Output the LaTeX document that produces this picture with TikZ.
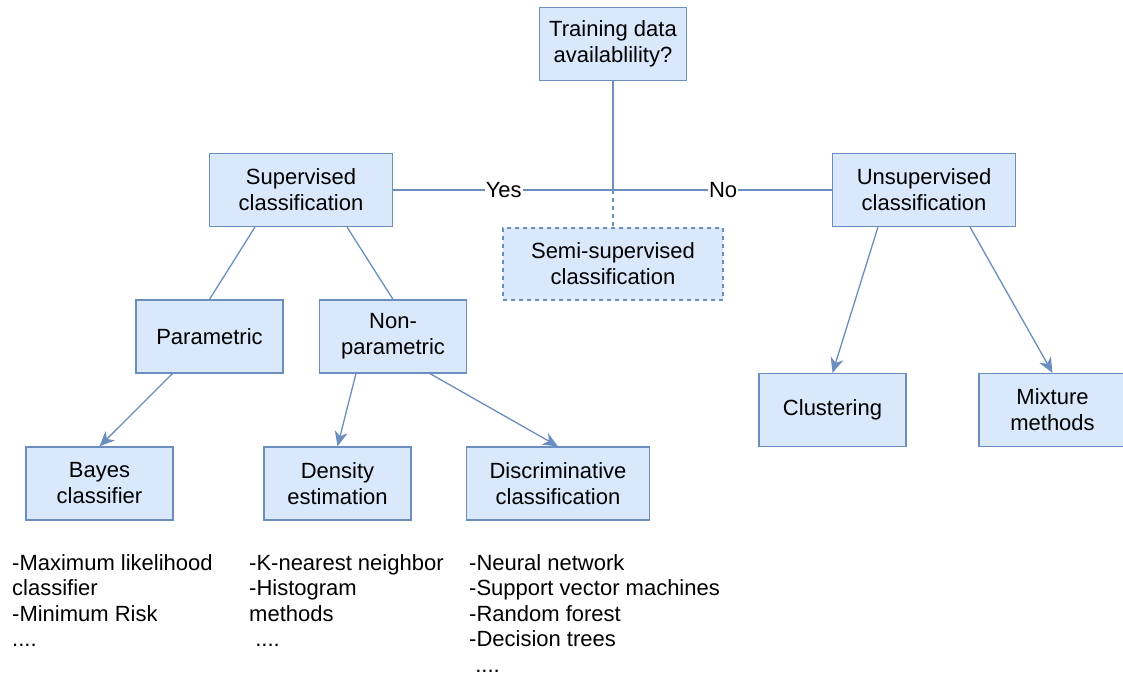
\documentclass[tikz,border=0pt]{standalone}
\usepackage{fontspec}
\setmainfont{Liberation Sans}
\usetikzlibrary{arrows.meta,calc}
\definecolor{boxfill}{HTML}{DAE8FC}
\definecolor{boxline}{HTML}{6C8EBF}
\tikzset{
  box/.style={draw=boxline, fill=boxfill, line width=1.3pt, align=center,
    inner sep=2pt, font=\fontsize{22}{26}\selectfont, minimum height=73pt},
  narrow/.style={box, minimum width=147pt},
  wide/.style={box, minimum width=183pt},
  link/.style={draw=boxline, line width=1.3pt},
  arrowlink/.style={link, -{Stealth[length=15pt,width=13pt,inset=4.5pt]}},
  tag/.style={fill=white, inner sep=1pt, font=\fontsize{22}{26}\selectfont, text=black},
  listtext/.style={align=left, anchor=north west, inner sep=0pt,
    font=\fontsize{22}{25.5}\selectfont},
}
\begin{document}
\begin{tikzpicture}[x=1pt, y=-1pt]
\useasboundingbox[fill=white] (0,0) rectangle (1123,675);

% decision boxes
\node[narrow] (train) at (613,44) {Training data\\availablility?};
\node[wide] (sup) at (301,190) {Supervised\\classification};
\node[wide] (unsup) at (924,190) {Unsupervised\\classification};
\node[box, minimum width=220pt, minimum height=72pt, dash pattern=on 4pt off 4pt] (semi) at (613,264) {Semi-supervised\\classification};

% method families
\node[narrow] (param) at (209.5,336.5) {Parametric};
\node[narrow] (nonparam) at (393,336.5) {Non-\\parametric};
\node[narrow] (clust) at (832.5,410) {Clustering};
\node[narrow] (mix) at (1052.5,410) {Mixture\\methods};
\node[narrow] (bayes) at (99.5,483.5) {Bayes\\classifier};
\node[narrow] (density) at (337.5,483.5) {Density\\estimation};
\node[wide] (discrim) at (558,483.5) {Discriminative\\classification};

% example lists
\node[listtext] (bayeslist) at (12,554) {-Maximum likelihood\\classifier\\-Minimum Risk\\....};
\node[listtext] (denslist) at (249,554) {-K-nearest neighbor\\-Histogram\\methods\\\ ....};
\node[listtext] (disclist) at (469,554) {-Neural network\\-Support vector machines\\-Random forest\\-Decision trees\\\ ....};

% connectors
\coordinate (split) at (train.south |- sup.east);
\draw[link] (train.south) -- (split);
\draw[link, dash pattern=on 4pt off 4pt] (split) -- (semi.north);
\draw[link] (sup.east) -- node[tag, pos=0.252] (yes) {Yes} node[tag, pos=0.752] (no) {No} (unsup.west);
\draw[link] ($(sup.south west)!0.25!(sup.south east)$) -- (param.north);
\draw[link] ($(sup.south west)!0.75!(sup.south east)$) -- (nonparam.north);
\draw[arrowlink] ($(param.south west)!0.25!(param.south east)$) -- (bayes.north);
\draw[arrowlink] ($(nonparam.south west)!0.25!(nonparam.south east)$) -- (density.north);
\draw[arrowlink] ($(nonparam.south west)!0.75!(nonparam.south east)$) -- (discrim.north);
\draw[arrowlink] ($(unsup.south west)!0.25!(unsup.south east)$) -- (clust.north);
\draw[arrowlink] ($(unsup.south west)!0.75!(unsup.south east)$) -- (mix.north);
\end{tikzpicture}
\end{document}
